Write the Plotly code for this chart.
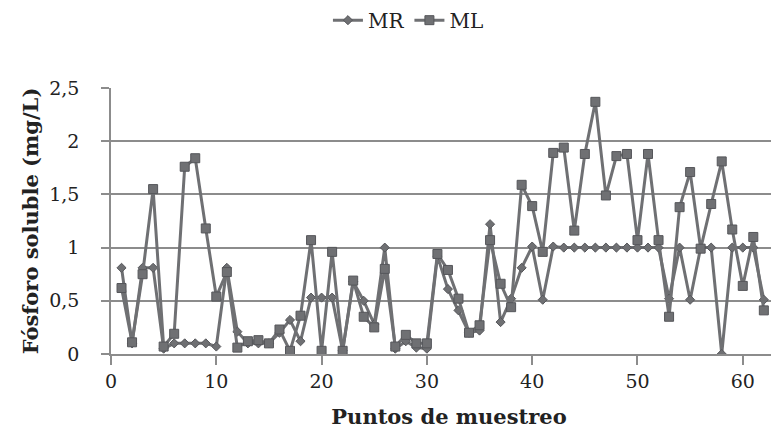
import plotly.graph_objects as go

puntos = list(range(1, 63))

MR = [0.81, 0.10, 0.81, 0.81, 0.05, 0.10, 0.10, 0.10, 0.10, 0.07,
      0.81, 0.21, 0.10, 0.10, 0.10, 0.20, 0.32, 0.12, 0.53, 0.53,
      0.53, 0.03, 0.68, 0.50, 0.28, 1.00, 0.05, 0.12, 0.06, 0.05,
      0.92, 0.61, 0.41, 0.20, 0.22, 1.22, 0.30, 0.52, 0.81, 1.01,
      0.51, 1.01, 1.00, 1.00, 1.00, 1.00, 1.00, 1.00, 1.00, 1.00,
      1.00, 1.00, 0.52, 1.00, 0.51, 1.00, 1.00, 0.00, 1.00, 1.00,
      1.00, 0.51]

ML = [0.62, 0.11, 0.75, 1.55, 0.07, 0.19, 1.76, 1.84, 1.18, 0.54,
      0.77, 0.06, 0.12, 0.13, 0.10, 0.23, 0.03, 0.36, 1.07, 0.03,
      0.96, 0.03, 0.69, 0.35, 0.25, 0.80, 0.07, 0.18, 0.10, 0.10,
      0.94, 0.79, 0.52, 0.20, 0.27, 1.07, 0.66, 0.44, 1.59, 1.39,
      0.96, 1.89, 1.94, 1.16, 1.88, 2.37, 1.49, 1.86, 1.88, 1.07,
      1.88, 1.07, 0.35, 1.38, 1.71, 0.99, 1.41, 1.81, 1.17, 0.64,
      1.10, 0.41]

x_ticks = [0, 10, 20, 30, 40, 50, 60]
y_ticks = [0, 0.5, 1, 1.5, 2, 2.5]

LINE = "#6f7073"
EDGE = "#55565a"
GRID = "#8c8c8c"
FONT = "DejaVu Serif"
TXT = "#222222"

fig = go.Figure()
fig.add_trace(go.Scatter(
    x=puntos, y=MR, name="MR", mode="lines+markers",
    line=dict(color=LINE, width=3),
    marker=dict(symbol="diamond", size=7, color=LINE, line=dict(color=EDGE, width=1)),
))
fig.add_trace(go.Scatter(
    x=puntos, y=ML, name="ML", mode="lines+markers",
    line=dict(color=LINE, width=3),
    marker=dict(symbol="square", size=9, color=LINE, line=dict(color=EDGE, width=1)),
))

fig.update_layout(
    width=779, height=433,
    margin=dict(l=103, r=0, t=80, b=87, autoexpand=False),
    paper_bgcolor="white", plot_bgcolor="white",
    separators=",.",
    font=dict(family=FONT, size=19, color=TXT),
    showlegend=True,
    legend=dict(orientation="h", x=0.44, xanchor="center", y=1.255, yanchor="middle",
                font=dict(family=FONT, size=20, color=TXT), tracegroupgap=0),
    xaxis=dict(
        range=[0, 64.2], tickvals=x_ticks, showgrid=False, zeroline=False,
        showline=True, linecolor=GRID, linewidth=1.5,
        ticks="outside", ticklen=9, tickcolor=GRID, tickwidth=1.5,
        tickfont=dict(family=FONT, size=19, color=TXT),
        title=dict(text="<b>Puntos de muestreo</b>", standoff=19,
                   font=dict(family=FONT, size=21, color=TXT)),
    ),
    yaxis=dict(
        range=[0, 2.5], tickvals=y_ticks, showgrid=True, gridcolor=GRID, gridwidth=1.5,
        zeroline=False, showline=True, linecolor=GRID, linewidth=1.5,
        ticks="outside", ticklen=8, tickcolor=GRID, tickwidth=1.5,
        ticklabelstandoff=18,
        tickfont=dict(family=FONT, size=19, color=TXT),
        title=dict(text="<b>Fósforo soluble (mg/L)</b>", standoff=5,
                   font=dict(family=FONT, size=21, color=TXT)),
    ),
)

fig.write_html("out.html")
